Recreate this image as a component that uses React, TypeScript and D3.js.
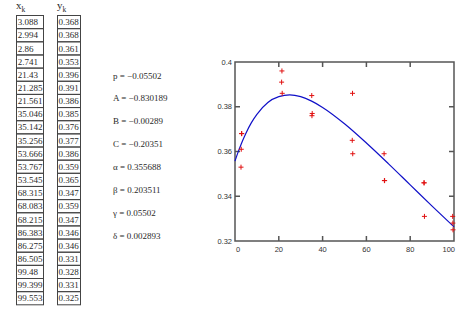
import React from "react";
import * as d3 from "d3";

const xk = [3.088, 2.994, 2.86, 2.741, 21.43, 21.285, 21.561, 35.046, 35.142, 35.256, 53.666, 53.767, 53.545, 68.315, 68.083, 68.215, 86.383, 86.275, 86.505, 99.48, 99.399, 99.553];
const yk = [0.368, 0.368, 0.361, 0.353, 0.396, 0.391, 0.386, 0.385, 0.376, 0.377, 0.386, 0.359, 0.365, 0.347, 0.359, 0.347, 0.346, 0.346, 0.331, 0.328, 0.331, 0.325];

const paramLabels = ["p = \u22120.05502", "A = \u22120.830189", "B = \u22120.00289", "C = \u22120.20351", "\u03b1 = 0.355688", "\u03b2 = 0.203511", "\u03b3 = 0.05502", "\u03b4 = 0.002893"];

// fitted curve values
const curveX = [0, 1, 2, 3.5, 5, 7.5, 10, 15, 20, 25, 30, 35, 40, 50, 60, 70, 80, 90, 100];
const curveY = [0.3557, 0.3586, 0.3612, 0.3649, 0.3682, 0.3729, 0.3766, 0.3819, 0.3845, 0.3853, 0.3845, 0.3825, 0.3797, 0.3724, 0.3638, 0.3546, 0.3451, 0.3356, 0.3263];

const xTicks = [0, 20, 40, 60, 80, 100];
const yTicks = [0.32, 0.34, 0.36, 0.38, 0.4];

export default function App() {
  const left = 235, right = 454, top = 62, bottom = 241;
  const x = d3.scaleLinear().domain([0, 100]).range([left, right]);
  const y = d3.scaleLinear().domain([0.32, 0.4]).range([bottom, top]);
  const line = d3.line<number>().x((_, i) => x(curveX[i])).y((d) => y(d)).curve(d3.curveMonotoneX);

  const tableTop = 15.5, rowH = 13.15;
  const textColor = "#2a2a2a";
  const serif = "'Liberation Serif', 'DejaVu Serif', serif";
  const sans = "'Liberation Sans', Arial, sans-serif";

  return (
    <svg width={474} height={320} style={{ position: "absolute", left: 0, top: 0, background: "#fff" }}>
      {/* headers */}
      <text x={16} y={9} fontFamily={serif} fontSize={11} fill={textColor}>x<tspan fontSize={7.5} dy={2.5}>k</tspan></text>
      <text x={57} y={9} fontFamily={serif} fontSize={11} fill={textColor}>y<tspan fontSize={7.5} dy={2.5}>k</tspan></text>
      {xk.map((v, i) => (
        <g key={"x" + i}>
          <rect x={16.5} y={tableTop + i * rowH} width={27} height={rowH} fill="none" stroke="#444" strokeWidth={1} />
          <text x={17.8} y={tableTop + i * rowH + rowH / 2 + 3.2} fontFamily={serif} fontSize={9} fill={textColor}>{v}</text>
        </g>
      ))}
      {yk.map((v, i) => (
        <g key={"y" + i}>
          <rect x={57.5} y={tableTop + i * rowH} width={23} height={rowH} fill="none" stroke="#444" strokeWidth={1} />
          <text x={58.6} y={tableTop + i * rowH + rowH / 2 + 3.2} fontFamily={serif} fontSize={9} fill={textColor}>{v.toFixed(3)}</text>
        </g>
      ))}
      {paramLabels.map((t, i) => (
        <text key={t} x={113} y={78.5 + i * 22.9} fontFamily={serif} fontSize={9} fill={textColor}>{t}</text>
      ))}

      {/* plot frame */}
      <rect x={left} y={top} width={right - left} height={bottom - top} fill="none" stroke="#555" strokeWidth={1.5} />
      {xTicks.slice(1, -1).map((t) => (
        <g key={"xt" + t}>
          <line x1={x(t)} x2={x(t)} y1={bottom} y2={bottom - 5} stroke="#555" strokeWidth={1.5} />
          <line x1={x(t)} x2={x(t)} y1={top} y2={top + 5} stroke="#555" strokeWidth={1.5} />
        </g>
      ))}
      {yTicks.slice(1, -1).map((t) => (
        <g key={"yt" + t}>
          <line x1={left} x2={left + 5} y1={y(t)} y2={y(t)} stroke="#555" strokeWidth={1.5} />
          <line x1={right} x2={right - 5} y1={y(t)} y2={y(t)} stroke="#555" strokeWidth={1.5} />
        </g>
      ))}
      {xTicks.map((t, i) => (
        <text key={"xl" + t} x={i === 0 ? x(t) + 1 : i === xTicks.length - 1 ? x(t) + 1 : x(t)} y={252}
          textAnchor={i === 0 ? "start" : i === xTicks.length - 1 ? "end" : "middle"}
          fontFamily={sans} fontSize={7.5} fill="#333">{t}</text>
      ))}
      {yTicks.map((t) => (
        <text key={"yl" + t} x={232} y={y(t) + 2.5} textAnchor="end" fontFamily={sans} fontSize={7.5} fill="#333">{String(t)}</text>
      ))}

      {/* fitted curve */}
      <path d={line(curveY) || ""} fill="none" stroke="#1010c8" strokeWidth={1.2} />

      {/* data points */}
      {xk.map((v, i) => (
        <g key={"p" + i} stroke="#e01010" strokeWidth={1}>
          <line x1={x(v) - 2.5} x2={x(v) + 2.5} y1={y(yk[i])} y2={y(yk[i])} />
          <line x1={x(v)} x2={x(v)} y1={y(yk[i]) - 2.5} y2={y(yk[i]) + 2.5} />
        </g>
      ))}
    </svg>
  );
}
